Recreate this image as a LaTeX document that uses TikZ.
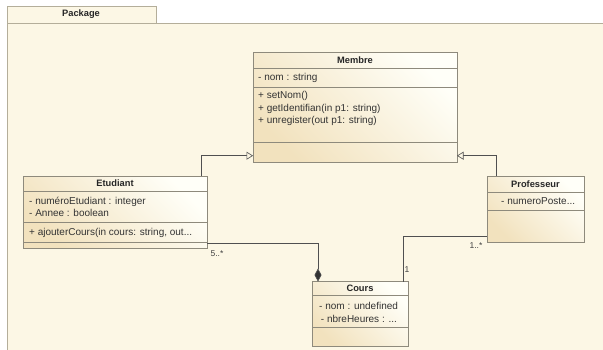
\documentclass[tikz,border=0pt]{standalone}
\usepackage{fontspec}
\setmainfont{Liberation Sans}
\usetikzlibrary{arrows.meta,calc}
\definecolor{pkgfill}{HTML}{FCF7E5}
\definecolor{pkgline}{HTML}{B4AE9A}
\definecolor{clsline}{HTML}{8E8A7C}
\definecolor{clstan}{HTML}{F2E2BE}
\definecolor{clslight}{HTML}{FFFFF8}
\definecolor{conn}{HTML}{505050}
\tikzset{
  cls/.style={draw=clsline, line width=0.8pt, inner sep=0pt, outer sep=0pt, anchor=north west,
    top color=clstan, bottom color=clslight, shading angle=135},
  sep/.style={draw=clsline, line width=0.7pt},
  title/.style={font=\bfseries\fontsize{9.3}{11}\selectfont, inner sep=0pt, text=black!85},
  member/.style={font=\fontsize{10}{12}\selectfont, inner sep=0pt, anchor=west, text=black!80},
  mult/.style={font=\fontsize{8.5}{10}\selectfont, inner sep=0pt, text=black!75},
  gen/.style={draw=conn, line width=0.6pt, -{Triangle[open, length=6.5pt, width=8pt, fill=pkgfill]}},
  comp/.style={draw=conn, line width=0.6pt, -{Diamond[length=13pt, width=7pt, fill=black!80]}},
  assoc/.style={draw=conn, line width=0.6pt},
}
\begin{document}
\begin{tikzpicture}[x=1pt, y=-1pt]
\useasboundingbox (0,0) rectangle (603,349);
\fill[white] (0,0) rectangle (603,349);
% package
\path[fill=pkgfill, draw=pkgline, line width=0.8pt] (7,23) rectangle (620,360);
\node[draw=pkgline, fill=pkgfill, line width=0.8pt, minimum width=149pt, minimum height=17pt, inner sep=0pt, anchor=north west] (tab) at (7,6) {};
\node[title] (tabtxt) at (81,14.5) {Package};

% Membre
\node[cls, minimum width=204pt, minimum height=110pt] (mem) at (253,52) {};
\draw[sep] (253,68) -- (457,68) (253,87) -- (457,87) (253,142) -- (457,142);
\node[title] (memt) at (355,60.5) {Membre};
\node[member] (mema1) at (258,78) {- nom : string};
\node[member] (memo1) at (258,96) {+ setNom()};
\node[member] (memo2) at (258,108.5) {+ getIdentifian(in p1: string)};
\node[member] (memo3) at (258,121) {+ unregister(out p1: string)};

% Etudiant
\node[cls, minimum width=184pt, minimum height=72.5pt] (etu) at (23,176) {};
\draw[sep] (23,191) -- (207,191) (23,222.5) -- (207,222.5) (23,242.5) -- (207,242.5);
\node[title] (etut) at (115,183.5) {Etudiant};
\node[member] (etua1) at (29,202.3) {- numéroEtudiant : integer};
\node[member] (etua2) at (29,213.3) {- Annee : boolean};
\node[member] (etuo1) at (29,233.3) {+ ajouterCours(in cours: string, out...};

% Professeur
\node[cls, minimum width=97pt, minimum height=66pt] (prof) at (487,176) {};
\draw[sep] (487,192) -- (584,192) (487,210) -- (584,210);
\node[title] (proft) at (535.5,184) {Professeur};
\node[member] (profa1) at (501,201.5) {- numeroPoste...};

% Cours
\node[cls, minimum width=96pt, minimum height=65pt] (cours) at (312,281.5) {};
\draw[sep] (312,295.5) -- (408,295.5) (312,327.3) -- (408,327.3);
\node[title] (courst) at (360,288.5) {Cours};
\node[member] (coursa1) at (319,306) {- nom : undefined};
\node[member] (coursa2) at (320.7,318.5) {- nbreHeures : ...};

% connectors
\draw[gen] (etu.north west) ++(178,0) |- ($(mem.south west)+(0,-6.3)$);
\draw[gen] (prof.north west) ++(9,0) |- ($(mem.south east)+(0,-6.3)$);
\draw[comp] ($(etu.south east)+(0,-5)$) -| (cours.north west -| 318,0);
\draw[assoc] (cours.north east) ++(-5,0) |- ($(prof.south west)+(0,-6)$);
\node[mult] (m1) at (217,254) {5..*};
\node[mult] (m2) at (476,246) {1..*};
\node[mult] (m3) at (407,270) {1};
\end{tikzpicture}
\end{document}
